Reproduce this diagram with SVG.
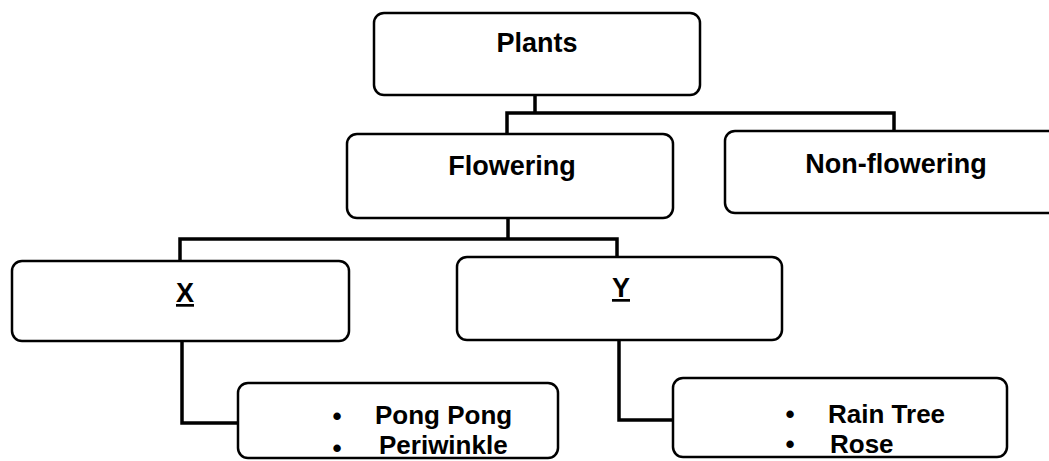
<svg xmlns="http://www.w3.org/2000/svg" width="1049" height="461" viewBox="0 0 1049 461">
<style>
.box{fill:#fff;stroke:#000;stroke-width:2.5}
.lbl{font-family:"Liberation Sans",Arial,sans-serif;font-weight:bold;font-size:27px;fill:#000}
.item{font-family:"Liberation Sans",Arial,sans-serif;font-weight:bold;font-size:26px;fill:#000}
.con{fill:none;stroke:#000;stroke-width:3.5}
</style>
<rect width="1049" height="461" fill="#fff"/>
<g id="connectors">
<path class="con" d="M535 95V113M507 134V113H894V131"/>
<path class="con" d="M508 218V239M180 261V239H617V257"/>
<path class="con" d="M182 341V423H238"/>
<path class="con" d="M619 340V420H673"/>
</g>
<g id="plants">
<rect class="box" x="374" y="13" width="326" height="82" rx="10"/>
<text class="lbl" x="537" y="52" text-anchor="middle">Plants</text>
</g>
<g id="flowering">
<rect class="box" x="347" y="134" width="326" height="84" rx="10"/>
<text class="lbl" x="512" y="175" text-anchor="middle">Flowering</text>
</g>
<g id="nonflowering">
<rect class="box" x="725" y="131" width="345" height="82" rx="10"/>
<text class="lbl" x="896" y="173" text-anchor="middle">Non-flowering</text>
</g>
<g id="x">
<rect class="box" x="12" y="261" width="337" height="80" rx="10"/>
<text class="lbl" x="185" y="302" text-anchor="middle" text-decoration="underline">X</text>
</g>
<g id="y">
<rect class="box" x="457" y="257" width="325" height="83" rx="10"/>
<text class="lbl" x="621" y="297" text-anchor="middle" text-decoration="underline">Y</text>
</g>
<g id="xlist">
<rect class="box" x="238" y="383" width="320" height="75" rx="10"/>
<text class="item" x="337" y="425" text-anchor="middle">•</text>
<text class="item" x="375" y="424">Pong Pong</text>
<text class="item" x="337" y="457" text-anchor="middle">•</text>
<text class="item" x="379" y="454">Periwinkle</text>
</g>
<g id="ylist">
<rect class="box" x="673" y="378" width="334" height="79" rx="10"/>
<text class="item" x="790" y="423" text-anchor="middle">•</text>
<text class="item" x="828" y="423">Rain Tree</text>
<text class="item" x="790" y="453" text-anchor="middle">•</text>
<text class="item" x="830" y="453">Rose</text>
</g>
</svg>
